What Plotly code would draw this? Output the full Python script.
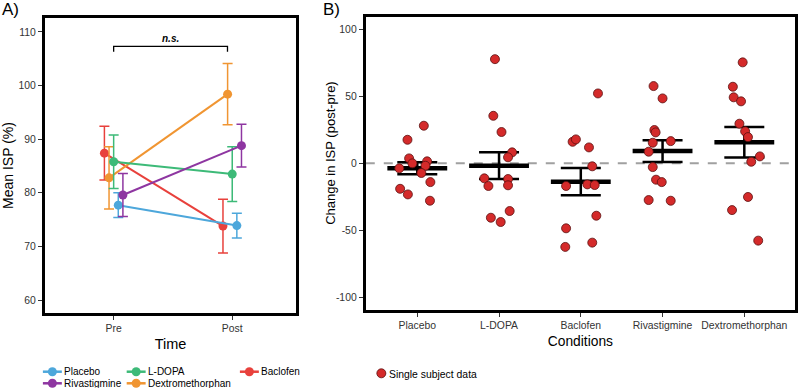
import plotly.graph_objects as go

W, H = 798, 388

# ---------------- Data: panel A (mean ISP, Pre/Post) ----------------
times = ["Pre", "Post"]
groups_a = ["Baclofen", "Dextromethorphan", "L-DOPA", "Placebo", "Rivastigmine"]
mean_baclofen = [87.4, 73.8]
mean_dextro = [82.8, 98.4]
mean_ldopa = [85.8, 83.5]
mean_placebo = [77.7, 73.9]
mean_rivast = [79.6, 88.8]
se_baclofen = [5.0, 5.0]
se_dextro = [5.8, 5.7]
se_ldopa = [5.0, 5.1]
se_placebo = [2.3, 2.3]
se_rivast = [4.0, 4.0]

colors = {
    "Placebo": "#4DA7DB",
    "L-DOPA": "#3DBA78",
    "Baclofen": "#E8413C",
    "Rivastigmine": "#8E36A1",
    "Dextromethorphan": "#F09532",
}
means_a = {"Baclofen": mean_baclofen, "Dextromethorphan": mean_dextro,
           "L-DOPA": mean_ldopa, "Placebo": mean_placebo, "Rivastigmine": mean_rivast}
ses_a = {"Baclofen": se_baclofen, "Dextromethorphan": se_dextro,
         "L-DOPA": se_ldopa, "Placebo": se_placebo, "Rivastigmine": se_rivast}

# ---------------- Data: panel B (change post-pre) ----------------
conditions = ["Placebo", "L-DOPA", "Baclofen", "Rivastigmine", "Dextromethorphan"]
change_placebo = [28.1, 17.6, 3.7, 0.0, -3.7, 1.5, -1.8, -7.2, -14.0, -19.0, -23.2, -27.9]
change_ldopa = [77.8, 35.5, 23.4, 8.2, 4.5, -11.2, -11.7, -16.9, -16.4, -40.6, -43.8, -35.6]
change_baclofen = [52.2, 16.1, 17.9, 11.9, -2.2, -16.9, -15.7, -16.2, -39.1, -48.5, -59.2, -62.4]
change_rivast = [57.7, 48.5, 24.9, 23.1, 15.4, 16.6, 8.7, -2.8, -12.2, -14.0, -27.4, -27.9]
change_dextro = [75.4, 57.2, 49.3, 46.3, 29.6, 23.9, 19.6, 5.2, 1.2, -25.1, -34.9, -57.7]
jitter_placebo = [0.08, -0.12, -0.10, -0.06, -0.22, 0.12, 0.10, 0.05, 0.16, -0.21, -0.115, 0.155]
jitter_ldopa = [-0.05, -0.07, 0.03, 0.16, 0.11, -0.18, 0.11, -0.13, 0.11, -0.10, 0.02, 0.13]
jitter_baclofen = [0.21, -0.10, -0.06, 0.10, 0.14, -0.18, 0.08, 0.17, 0.19, -0.18, 0.14, -0.19]
jitter_rivast = [-0.11, 0.0, -0.10, -0.085, -0.12, 0.10, -0.17, -0.12, -0.08, -0.01, -0.17, 0.10]
jitter_dextro = [-0.02, -0.14, -0.13, -0.04, -0.06, 0.01, 0.045, 0.19, 0.085, 0.045, -0.15, 0.17]
change_mean = [-3.7, -1.7, -13.7, 9.2, 15.7]
change_se = [4.5, 10.0, 10.2, 8.1, 11.4]

y_ticks_a = [60, 70, 80, 90, 100, 110]
y_ticks_b = [-100, -50, 0, 50, 100]
y_ticklabels_b = ["-100", "-50", "0", "50", "100"]

# ---------------- helpers ----------------
def px(p):
    return p / W

def py(p):
    return 1 - p / H

FONT = "Liberation Sans, Arial, sans-serif"
TICKC = "#333333"
SMALL = 10.4
LEGF = 10

fig = go.Figure()

# Panel A traces (dodged)
dodge = 0.039
for i, g in enumerate(groups_a):
    off = (i - 2) * dodge
    fig.add_trace(go.Scatter(
        x=[k + off for k in range(len(times))], y=means_a[g],
        mode="lines+markers", name=g, showlegend=False,
        line=dict(color=colors[g], width=2),
        marker=dict(color=colors[g], size=9),
        error_y=dict(type="data", array=ses_a[g], color=colors[g], thickness=1.5, width=5),
        xaxis="x", yaxis="y",
    ))

# Panel B: mean +- SE bars
fig.add_trace(go.Scatter(
    x=list(range(len(conditions))), y=change_mean, mode="markers",
    marker=dict(size=1, color="black", opacity=0),
    error_y=dict(type="data", array=change_se, color="black", thickness=2.5, width=20),
    showlegend=False, xaxis="x2", yaxis="y2",
))
fig.add_trace(go.Scatter(
    x=list(range(len(conditions))), y=change_mean, mode="markers",
    marker=dict(size=1, color="black", opacity=0),
    error_x=dict(type="constant", value=0.366, color="black", thickness=4.5, width=0),
    showlegend=False, xaxis="x2", yaxis="y2",
))

changes = [change_placebo, change_ldopa, change_baclofen, change_rivast, change_dextro]
jitters = [jitter_placebo, jitter_ldopa, jitter_baclofen, jitter_rivast, jitter_dextro]
xs, ys = [], []
for ci, (vals, jit) in enumerate(zip(changes, jitters)):
    for v, j in zip(vals, jit):
        xs.append(ci + j)
        ys.append(v)
fig.add_trace(go.Scatter(
    x=xs, y=ys, mode="markers", name="Single subject data", showlegend=False,
    marker=dict(size=9, color="#D42A2A", line=dict(color="#5a1010", width=0.8)),
    xaxis="x2", yaxis="y2",
))

# ---------------- Layout ----------------
axis_common = dict(showgrid=False, zeroline=False, showline=True, linecolor="black",
                   linewidth=3, mirror=True, ticks="outside", ticklen=4, tickwidth=1,
                   tickcolor=TICKC, tickfont=dict(family=FONT, size=SMALL, color=TICKC))

fig.update_layout(
    width=W, height=H, margin=dict(l=0, r=0, t=0, b=0),
    paper_bgcolor="white", plot_bgcolor="white",
    font=dict(family=FONT, color="black"),
    showlegend=False,
    xaxis=dict(axis_common, domain=[px(45), px(297)], range=[-0.58, 1.54],
               tickvals=[0, 1], ticktext=times, anchor="y",
               title=dict(text="Time", font=dict(size=14.5, family=FONT), standoff=6)),
    yaxis=dict(axis_common, domain=[py(313), py(18)], range=[57.6, 112.6],
               tickvals=y_ticks_a, anchor="x",
               title=dict(text="Mean ISP (%)", font=dict(size=14, family=FONT), standoff=8)),
    xaxis2=dict(axis_common, domain=[px(366.7), px(797)], range=[-0.63, 4.62],
                tickvals=list(range(len(conditions))), ticktext=conditions, anchor="y2",
                title=dict(text="Conditions", font=dict(size=13.8, family=FONT), standoff=6)),
    yaxis2=dict(axis_common, domain=[py(310), py(16.7)], range=[-109.5, 109.5],
                tickvals=y_ticks_b, ticktext=y_ticklabels_b, anchor="x2"),
)

shapes = []
annotations = []

# y title for panel B (placed like the reference, slightly above panel centre)
annotations.append(dict(xref="paper", yref="paper", x=px(331.7), y=py(153),
                        xanchor="center", yanchor="middle", textangle=-90,
                        text="Change in ISP (post-pre)", showarrow=False,
                        font=dict(family=FONT, size=13, color="black")))

# zero dashed line in B
shapes.append(dict(type="line", xref="x2 domain", yref="y2", x0=0, x1=1, y0=0, y1=0,
                   line=dict(color="#A0A0A0", width=2, dash="dash"), layer="below"))

# significance bracket in A
shapes.append(dict(type="path", xref="x", yref="y",
                   path="M 0,106.3 L 0,107.3 L 0.96,107.3 L 0.96,106.3",
                   line=dict(color="black", width=1.3)))
annotations.append(dict(xref="x", yref="y", x=0.48, y=107.4, yanchor="bottom",
                        text="<b><i>n.s.</i></b>", showarrow=False,
                        font=dict(family=FONT, size=10, color="black")))

# panel labels
annotations.append(dict(xref="paper", yref="paper", x=px(0), y=py(-2), xanchor="left", yanchor="top",
                        text="A)", showarrow=False, font=dict(family=FONT, size=17)))
annotations.append(dict(xref="paper", yref="paper", x=px(322), y=py(-2), xanchor="left", yanchor="top",
                        text="B)", showarrow=False, font=dict(family=FONT, size=17)))

# custom legend for panel A
legend_items = [
    ("Placebo", 43, 371.7), ("L-DOPA", 127, 371.7), ("Baclofen", 240.5, 371.7),
    ("Rivastigmine", 43, 383.3), ("Dextromethorphan", 127, 383.3),
]
for name, x0, yc in legend_items:
    c = colors[name]
    shapes.append(dict(type="line", xref="paper", yref="paper", x0=px(x0), x1=px(x0 + 19),
                       y0=py(yc), y1=py(yc), line=dict(color=c, width=2.5)))
    shapes.append(dict(type="circle", xref="paper", yref="paper",
                       xsizemode="pixel", ysizemode="pixel",
                       xanchor=px(x0 + 9.5), yanchor=py(yc), x0=-4.5, x1=4.5, y0=-4.5, y1=4.5,
                       fillcolor=c, line=dict(color=c, width=0)))
    annotations.append(dict(xref="paper", yref="paper", x=px(x0 + 19.5), y=py(yc),
                            xanchor="left", yanchor="middle", text=name, showarrow=False,
                            font=dict(family=FONT, size=LEGF, color="black")))

# legend for panel B
shapes.append(dict(type="circle", xref="paper", yref="paper", xsizemode="pixel", ysizemode="pixel",
                   xanchor=px(382.3), yanchor=py(373.3), x0=-4.5, x1=4.5, y0=-4.5, y1=4.5,
                   fillcolor="#D42A2A", line=dict(color="#5a1010", width=0.8)))
annotations.append(dict(xref="paper", yref="paper", x=px(387.5), y=py(374), xanchor="left",
                        yanchor="middle", text="Single subject data", showarrow=False,
                        font=dict(family=FONT, size=SMALL, color="black")))

fig.update_layout(shapes=shapes, annotations=annotations)

fig.write_html("out.html", config={"displayModeBar": False},
               post_script="document.body.style.margin='0';document.body.style.overflow='hidden';")
